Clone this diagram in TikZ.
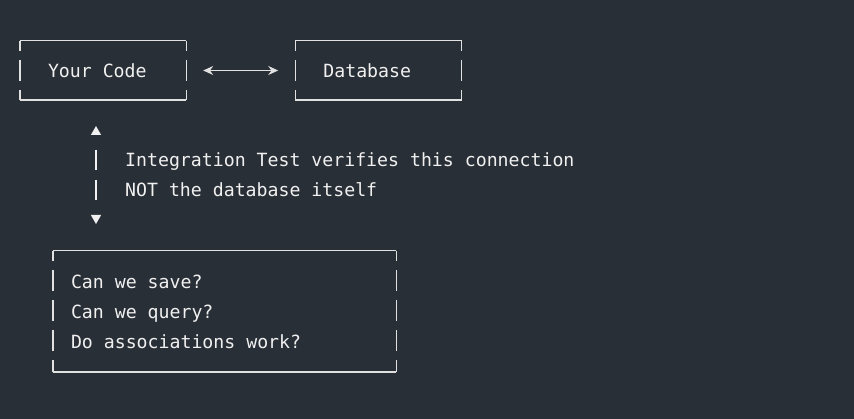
\documentclass[tikz,border=0pt]{standalone}
\usepackage{fontspec}
\newfontfamily\codefont{DejaVu Sans Mono}
\usepackage{tikz}
\usetikzlibrary{positioning,arrows.meta}
\definecolor{bgcol}{RGB}{41,47,54}
\definecolor{ink}{RGB}{240,240,240}
\definecolor{rimcol}{RGB}{225,225,225}
\begin{document}
\begin{tikzpicture}[x=1pt,y=1pt,
  txt/.style={text=ink,font=\codefont\fontsize{18.2}{30}\selectfont},
  box/.style={txt,inner ysep=0pt,minimum height=59pt,inner xsep=28pt,text width=110pt,align=flush left},
  rim/.style={draw=rimcol,line width=1.4pt},
  side/.style={dash pattern=on 21pt off 9pt,dash phase=10.5pt},
  ar/.style={rimcol,line width=1.2pt,{Stealth[length=10pt,width=9pt]}-{Stealth[length=10pt,width=9pt]}},
  vl/.style={ink,line width=1.3pt,{Triangle[length=9pt,width=10pt]}-{Triangle[length=9pt,width=10pt]},
    dash pattern=on 20pt off 10pt on 20pt off 30pt,dash phase=65pt}]
\fill[bgcol] (0,0) rectangle (854,-419);
\useasboundingbox (0,0) rectangle (854,-419);
\node[box] (code) at (103,-70.5) {Your Code};
\node[box,right=109pt of code] (db) {Database};
\node[box,minimum height=121pt,inner xsep=18pt,text width=307pt] (checks) at (224.5,-311.5)
  {Can we save?\\Can we query?\\Do associations work?};
\foreach \b in {code,db,checks} {
  \draw[rim] (\b.north west) -- (\b.north east);
  \draw[rim] (\b.south west) -- (\b.south east);
  \draw[rim,side] (\b.north west) -- (\b.south west);
  \draw[rim,side] (\b.north east) -- (\b.south east);
}
\draw[ar,shorten <=17pt,shorten >=17pt] (code.east) -- (db.west);
\coordinate (up) at (96,-126);
\coordinate (dn) at (96,-224);
\draw[vl] (up) -- (dn);
\node[txt,anchor=west,inner sep=0pt,align=left] (note) at (125,-175)
  {Integration Test verifies this connection\\NOT the database itself};
\end{tikzpicture}
\end{document}
